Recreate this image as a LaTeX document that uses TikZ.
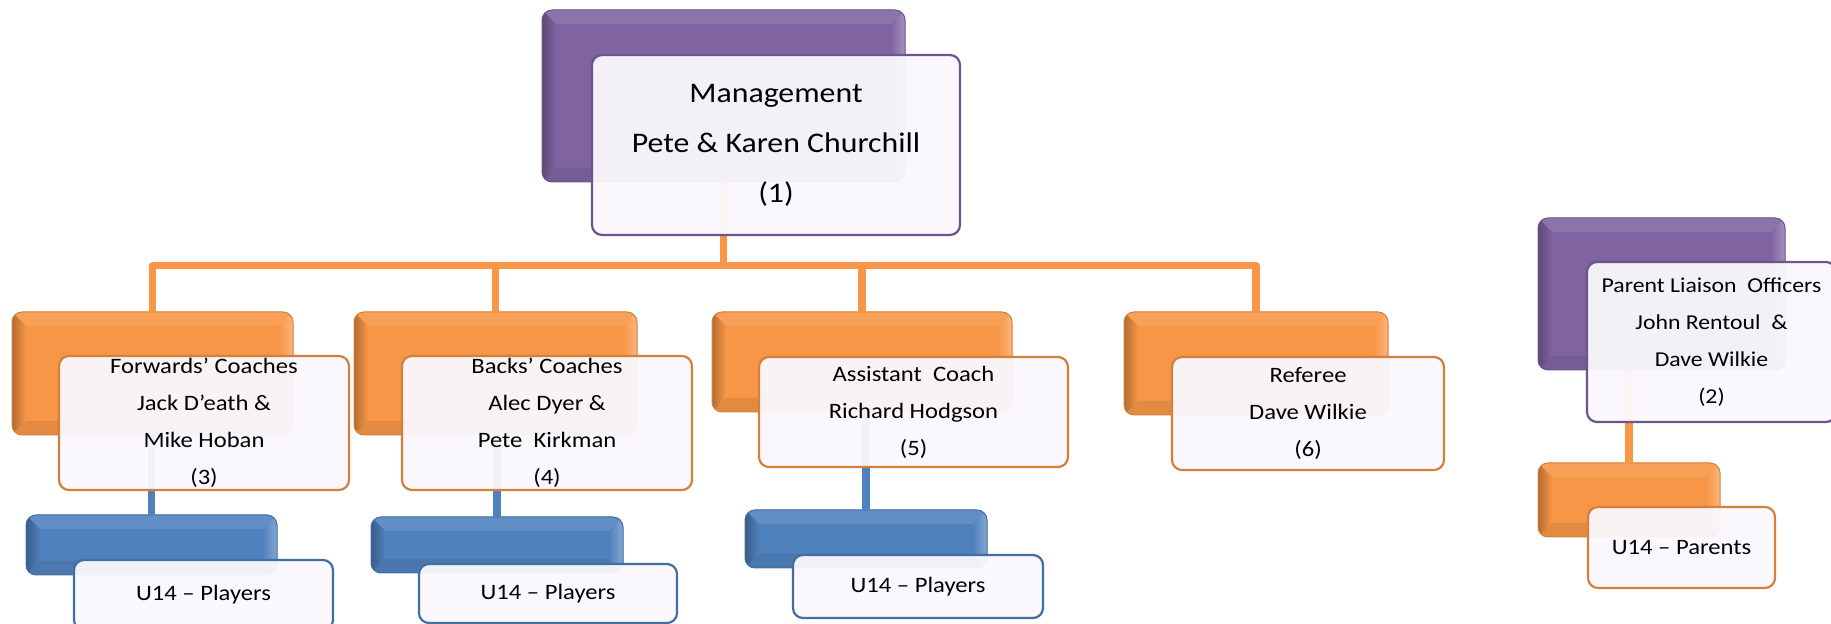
\documentclass[tikz,border=0pt]{standalone}
\usepackage{fontspec}
\setmainfont{Carlito}[FakeStretch=1.12]
\definecolor{purp}{HTML}{8064A2}
\definecolor{orng}{HTML}{F79646}
\definecolor{blu}{HTML}{4F81BD}
\definecolor{frontfill}{HTML}{FAF8FD}
\tikzset{
 backbox/.style={fill=#1, draw=#1!85!black, line width=0.5pt, rounded corners=5pt,
  inner sep=0pt, outer sep=0pt,
  path picture={
   \coordinate (bSW) at (path picture bounding box.south west);
   \coordinate (bNW) at (path picture bounding box.north west);
   \coordinate (bNE) at (path picture bounding box.north east);
   \coordinate (bSE) at (path picture bounding box.south east);
   \fill[sharp corners,#1!90!white] (bNW) -- (bNE) -- ([shift={(-7pt,-7pt)}]bNE) -- ([shift={(7pt,-7pt)}]bNW) -- cycle;
   \fill[sharp corners,#1!92!black] (bSW) -- (bSE) -- ([shift={(-7pt,7pt)}]bSE) -- ([shift={(7pt,7pt)}]bSW) -- cycle;
   \shade[sharp corners,left color=#1!72!black, right color=#1] (bSW) -- (bNW) -- ([shift={(7pt,-7pt)}]bNW) -- ([shift={(7pt,7pt)}]bSW) -- cycle;
   \shade[sharp corners,left color=#1, right color=#1!70!white] (bSE) -- (bNE) -- ([shift={(-7pt,-7pt)}]bNE) -- ([shift={(-7pt,7pt)}]bSE) -- cycle;
  }},
 frontbox/.style={fill=frontfill, fill opacity=0.95, text opacity=1, draw=#1!85!black,
  line width=1.1pt, rounded corners=5pt, inner sep=0pt, outer sep=0pt, align=center,
  font=\fontsize{11}{18.5}\selectfont},
 oconn/.style={draw=orng, line width=3.6pt},
 bconn/.style={draw=blu, line width=3.6pt},
}
% name, style, x1, y1, x2, y2, text
\newcommand\boxat[7]{%
 \node[#2, minimum width={(#5-#3)*0.5pt}, minimum height={(#6-#4)*0.5pt}]
   (#1) at ({(#3+#5)/2},{(#4+#6)/2}) {#7};}
\begin{document}
\begin{tikzpicture}[x=0.5pt,y=-0.5pt]
\useasboundingbox (0,0) rectangle (1831,624);
% --- back boxes ---
\boxat{mB}{backbox=purp}{542}{10}{905}{182}{}
\boxat{c1B}{backbox=orng}{12}{312}{293}{435}{}
\boxat{c2B}{backbox=orng}{354}{312}{637}{435}{}
\boxat{c3B}{backbox=orng}{712}{312}{1012}{412}{}
\boxat{c4B}{backbox=orng}{1124}{312}{1388}{415}{}
\boxat{p1B}{backbox=blu}{26}{515}{277}{575}{}
\boxat{p2B}{backbox=blu}{371}{517}{623}{573}{}
\boxat{p3B}{backbox=blu}{745}{510}{987}{568}{}
\boxat{plB}{backbox=purp}{1538}{218}{1785}{370}{}
\boxat{ppB}{backbox=orng}{1538}{463}{1720}{537}{}
% --- connectors ---
\coordinate (bar) at (723.5,265.5);
\draw[oconn] (mB.south) -- (bar);
\draw[oconn, line join=round] (c1B.north) |- (bar) -| (c4B.north);
\draw[oconn] (c2B.north) -- (c2B.north |- bar);
\draw[oconn] (c3B.north) -- (c3B.north |- bar);
\draw[bconn] (p1B.north) -- (p1B.north |- c1B.south);
\draw[bconn] (p2B.north) -- (p2B.north |- c2B.south);
\draw[bconn] (p3B.north) -- (p3B.north |- c3B.south);
\draw[oconn] (ppB.north) -- (ppB.north |- plB.south);
% --- front boxes ---
\boxat{mF}{frontbox=purp, font=\fontsize{14.2}{25}\selectfont}{592}{55}{960}{235}{Management\\Pete \& Karen Churchill\\(1)}
\boxat{c1F}{frontbox=orng}{59}{356}{349}{490}{Forwards’ Coaches\\Jack D’eath \&\\Mike Hoban\\(3)}
\boxat{c2F}{frontbox=orng}{402}{356}{692}{490}{Backs’ Coaches\\Alec Dyer \&\\Pete\ \ Kirkman\\(4)}
\boxat{c3F}{frontbox=orng}{759}{357}{1068}{467}{Assistant\ \ Coach\\Richard Hodgson\\(5)}
\boxat{c4F}{frontbox=orng}{1172}{357}{1444}{470}{Referee\\Dave Wilkie\\(6)}
\boxat{p1F}{frontbox=blu}{74}{560}{333}{630}{U14 – Players}
\boxat{p2F}{frontbox=blu}{419}{564}{677}{623}{U14 – Players}
\boxat{p3F}{frontbox=blu}{793}{555}{1043}{618}{U14 – Players}
\boxat{plF}{frontbox=purp, font=\fontsize{10.6}{18.5}\selectfont}{1587}{262}{1836}{422}{Parent Liaison\ \ Officers\\John Rentoul\ \ \&\\Dave Wilkie\\(2)}
\boxat{ppF}{frontbox=orng}{1588}{507}{1775}{588}{U14 – Parents}
\end{tikzpicture}
\end{document}
